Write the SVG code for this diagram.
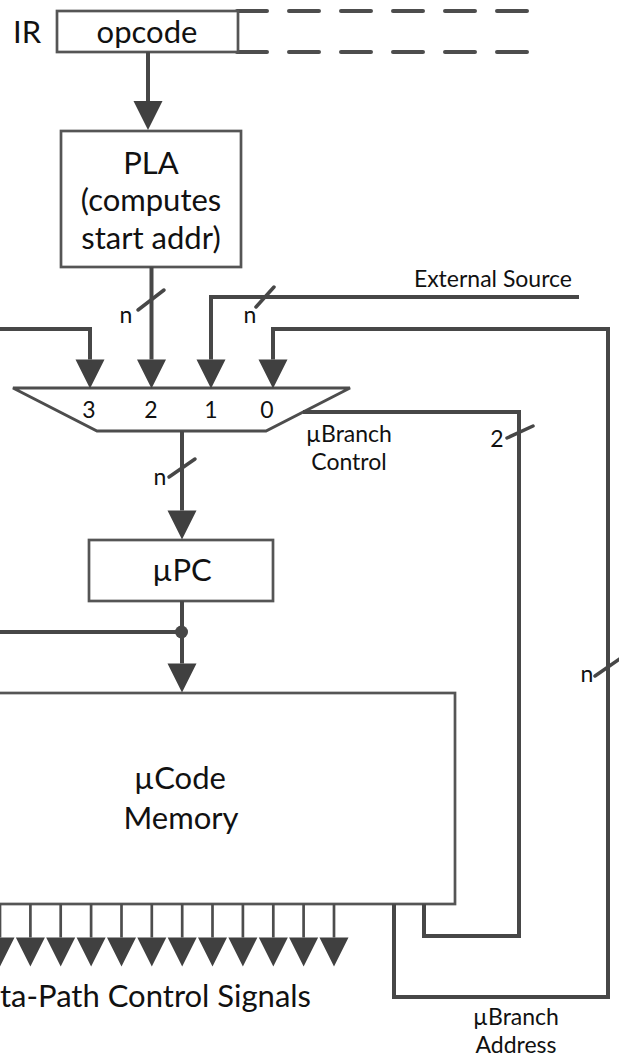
<svg xmlns="http://www.w3.org/2000/svg" width="619" height="1057" viewBox="0 0 619 1057">
  <style>
    .box { fill: #ffffff; stroke: #555555; stroke-width: 2.7; }
    .wire { fill: none; stroke: #474747; stroke-width: 4; stroke-linejoin: miter; }
    .thin { fill: none; stroke: #4d4d4d; stroke-width: 2.7; }
    .slash { fill: none; stroke: #474747; stroke-width: 3.5; stroke-linecap: round; }
    .dash { fill: none; stroke: #4d4d4d; stroke-width: 4; stroke-linecap: round; stroke-dasharray: 30 22; }
    .big { font-family: Lato, "Liberation Sans", sans-serif; font-size: 31px; fill: #111111; }
    .small { font-family: Lato, "Liberation Sans", sans-serif; font-size: 23px; fill: #111111; }
    .mid { text-anchor: middle; }
  </style>
  <defs>
    <!-- filled arrowhead; the wire stops at its base -->
    <marker id="head" markerUnits="userSpaceOnUse" markerWidth="29" markerHeight="29" viewBox="0 0 29 29" refX="0" refY="14.5" orient="auto" overflow="visible">
      <path d="M0,0 L29,14.5 L0,29 Z" fill="#404040"/>
    </marker>
  </defs>

  <!-- instruction register -->
  <g id="ir">
    <text class="big" x="13" y="43">IR</text>
    <path class="dash" d="M237,11 H527 M237,52 H527"/>
    <rect class="box" x="57" y="11" width="181" height="41"/>
    <text class="big mid" x="147" y="43">opcode</text>
  </g>

  <!-- start address PLA -->
  <g id="pla">
    <rect class="box" x="61" y="131" width="180" height="136"/>
    <text class="big mid" x="151" y="174">PLA</text>
    <text class="big mid" x="151" y="211">(computes</text>
    <text class="big mid" x="151" y="249">start addr)</text>
  </g>

  <!-- next-address multiplexer -->
  <g id="mux">
    <polygon points="13,388 350,388 266,431 97,431" fill="#ffffff" stroke="#4d4d4d" stroke-width="3"/>
    <text class="small mid" x="89" y="418">3</text>
    <text class="small mid" x="151" y="418">2</text>
    <text class="small mid" x="211" y="418">1</text>
    <text class="small mid" x="267" y="418">0</text>
  </g>

  <!-- micro program counter -->
  <g id="upc">
    <rect class="box" x="89" y="540" width="184" height="61"/>
    <text class="big mid" x="182" y="581">µPC</text>
  </g>

  <!-- microcode store -->
  <g id="ucode">
    <rect class="box" x="-10" y="693" width="465" height="211"/>
    <text class="big mid" x="180" y="789">µCode</text>
    <text class="big mid" x="181" y="829">Memory</text>
  </g>

  <g id="connectors">
    <!-- opcode to PLA -->
    <path class="wire" d="M148,52 V101" marker-end="url(#head)"/>
    <!-- mux inputs -->
    <path class="wire" d="M0,329 H90 V359.5" marker-end="url(#head)"/>
    <path class="wire" d="M151.5,267 V359.5" marker-end="url(#head)"/>
    <path class="wire" d="M579,297 H211 V359.5" marker-end="url(#head)"/>
    <path class="wire" d="M394,904 V997 H608 V329 H273 V359.5" marker-end="url(#head)"/>
    <!-- mux select -->
    <path class="wire" d="M303,412 H519 V936 H424 V904"/>
    <!-- mux to uPC -->
    <path class="wire" d="M182,431 V510.5" marker-end="url(#head)"/>
    <!-- uPC to memory, with tap to the left -->
    <path class="wire" d="M182,601 V663.5" marker-end="url(#head)"/>
    <path class="wire" d="M0,632 H182"/>
    <circle cx="181.5" cy="632" r="6.5" fill="#474747"/>
    <!-- data-path control outputs -->
    <g class="ctl">
      <path class="thin" d="M0,904 V937.5" marker-end="url(#head)"/>
      <path class="thin" d="M30.4,904 V937.5" marker-end="url(#head)"/>
      <path class="thin" d="M60.7,904 V937.5" marker-end="url(#head)"/>
      <path class="thin" d="M91.1,904 V937.5" marker-end="url(#head)"/>
      <path class="thin" d="M121.5,904 V937.5" marker-end="url(#head)"/>
      <path class="thin" d="M151.8,904 V937.5" marker-end="url(#head)"/>
      <path class="thin" d="M182.2,904 V937.5" marker-end="url(#head)"/>
      <path class="thin" d="M212.5,904 V937.5" marker-end="url(#head)"/>
      <path class="thin" d="M242.9,904 V937.5" marker-end="url(#head)"/>
      <path class="thin" d="M273.3,904 V937.5" marker-end="url(#head)"/>
      <path class="thin" d="M303.6,904 V937.5" marker-end="url(#head)"/>
      <path class="thin" d="M334,904 V937.5" marker-end="url(#head)"/>
    </g>
    <!-- bus width marks -->
    <path class="slash" d="M138,310 L164,290"/>
    <text class="small mid" x="126" y="323">n</text>
    <path class="slash" d="M256,307 L274,287"/>
    <text class="small mid" x="250" y="323">n</text>
    <path class="slash" d="M169,477 L195,459"/>
    <text class="small mid" x="160" y="485">n</text>
    <path class="slash" d="M507,438 L533,426"/>
    <text class="small mid" x="497" y="447">2</text>
    <path class="slash" d="M595,676 L621,658"/>
    <text class="small mid" x="587" y="682">n</text>
  </g>

  <!-- free labels -->
  <g id="labels">
    <text class="small" x="572" y="287" text-anchor="end">External Source</text>
    <text class="small mid" x="349" y="442">µBranch</text>
    <text class="small mid" x="349" y="470">Control</text>
    <text class="small mid" x="516" y="1025">µBranch</text>
    <text class="small mid" x="516" y="1053">Address</text>
    <text class="big" x="0" y="1007">ta-Path Control Signals</text>
  </g>
</svg>
